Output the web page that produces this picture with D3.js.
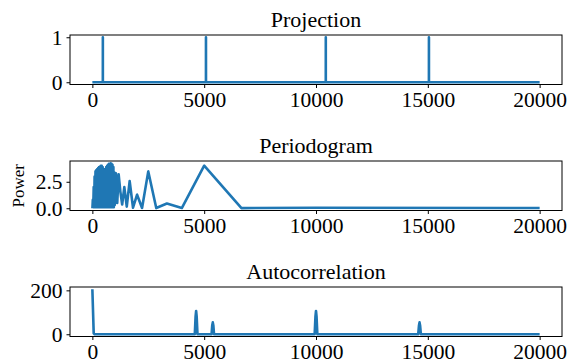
<!DOCTYPE html>
<html>
<head>
<meta charset="utf-8">
<script src="https://cdn.jsdelivr.net/npm/d3@7"></script>
<style>
  html, body { margin: 0; padding: 0; background: #fff; }
  svg { display: block; }
  .tick text { font-family: "Liberation Serif", "Times New Roman", serif; fill: #000; }
  .title { font-family: "Liberation Serif", "Times New Roman", serif; fill: #000; }
</style>
</head>
<body>
<svg id="chart" width="571" height="364"></svg>
<script>
// Projection: impulse positions (sample index) on a flat zero baseline
const projectionX = [0, 468, 469, 470, 5079, 5080, 5081, 10437, 10438, 10439, 15049, 15050, 15051, 20000];
const projectionY = [0, 0, 1, 0, 0, 1, 0, 0, 1, 0, 0, 1, 0, 0];

// Periodogram: power against period
const periodX = [20000, 10000, 6667, 5000, 4000, 3333, 2857, 2500, 2222, 2000, 1818, 1667, 1538, 1429, 1333, 1250, 1176, 1111, 1053, 1000,
  980, 960, 940, 920, 900, 880, 860, 840, 820, 800, 780, 760, 740, 720, 700, 680, 660, 640, 620, 600,
  580, 560, 540, 520, 500, 480, 460, 440, 420, 400, 380, 360, 340, 320, 300, 280, 260, 240, 220, 200,
  180, 160, 140, 120, 100, 80, 60, 40, 20, 2];
const powerY = [0.02, 0.05, 0.01, 4.02, 0.02, 0.45, 0.02, 3.48, 0.03, 1.28, 0.05, 2.57, 0.15, 2.0, 0.35, 1.6, 3.2, 0.5, 3.3, 0.3,
  3.4, 0.1, 3.9, 0.2, 4.1, 0.1, 4.2, 0.3, 4.25, 0.1, 4.15, 0.2, 4.2, 0.1, 4.1, 0.3, 4.0, 0.1, 3.9, 0.2,
  3.7, 0.1, 3.6, 0.2, 3.7, 0.1, 3.9, 0.2, 4.0, 0.1, 4.0, 0.2, 3.95, 0.1, 3.9, 0.2, 3.8, 0.1, 3.7, 0.2,
  3.6, 0.1, 3.5, 0.2, 3.0, 0.1, 2.0, 0.1, 0.8, 0.0];

// Autocorrelation: value against lag
const lagX = [0, 60, 100, 4580, 4615, 4640, 4665, 4700, 5330, 5360, 5385, 5410, 5440,
  9940, 9975, 10000, 10025, 10060, 14570, 14605, 14630, 14655, 14690, 20000];
const acfY = [205, 4, 0, 0, 80, 106, 80, 0, 0, 40, 54, 40, 0,
  0, 80, 106, 80, 0, 0, 40, 54, 40, 0, 0];

const xTicks = [0, 5000, 10000, 15000, 20000];
const titles = ["Projection", "Periodogram", "Autocorrelation"];
const yTicks = [[0, 1], [0, 2.5], [0, 200]];
const yFormats = [d3.format("d"), d3.format(".1f"), d3.format("d")];

const panels = [
  { xs: projectionX, ys: projectionY },
  { xs: periodX, ys: powerY },
  { xs: lagX, ys: acfY }
];

const svg = d3.select("#chart");
const left = 70, right = 562, plotH = 49.5;
const tops = [35, 161, 287];
const blue = "#1f77b4";

// padded domain, 5% either side of the data extent
function padded(ext) {
  const d = ext[1] - ext[0];
  return [ext[0] - 0.05 * d, ext[1] + 0.05 * d];
}

const x = d3.scaleLinear().domain(padded([0, 20000])).range([left, right]);

panels.forEach((p, i) => {
  const top = tops[i];
  const y = d3.scaleLinear().domain(padded(d3.extent(p.ys))).range([top + plotH, top]);
  const g = svg.append("g");

  const pts = p.xs.map((v, j) => [v, p.ys[j]]);
  const line = d3.line().x(d => x(d[0])).y(d => y(d[1]));

  g.append("path")
    .datum(pts)
    .attr("d", line)
    .attr("fill", "none")
    .attr("stroke", blue)
    .attr("stroke-width", 2.6)
    .attr("stroke-linejoin", "round");

  // frame
  g.append("rect")
    .attr("x", left).attr("y", top)
    .attr("width", right - left).attr("height", plotH)
    .attr("fill", "none").attr("stroke", "#000").attr("stroke-width", 1);

  const xa = g.append("g")
    .attr("transform", `translate(0,${top + plotH})`)
    .call(d3.axisBottom(x).tickValues(xTicks).tickFormat(d3.format("d"))
      .tickSize(3.5).tickSizeOuter(0).tickPadding(3.5));
  xa.select(".domain").remove();
  xa.selectAll("text").style("font-size", "21.5px");

  const ya = g.append("g")
    .attr("transform", `translate(${left},0)`)
    .call(d3.axisLeft(y).tickValues(yTicks[i]).tickFormat(yFormats[i])
      .tickSize(3.5).tickSizeOuter(0).tickPadding(4));
  ya.select(".domain").remove();
  ya.selectAll("text").style("font-size", "21.5px");
  g.selectAll(".tick line").attr("stroke", "#000");

  g.append("text")
    .attr("class", "title")
    .attr("x", (left + right) / 2)
    .attr("y", top - 8)
    .attr("text-anchor", "middle")
    .style("font-size", "22px")
    .text(titles[i]);
});

// y label of the periodogram
svg.append("text")
  .attr("class", "title")
  .attr("transform", `translate(24,${tops[1] + plotH / 2}) rotate(-90)`)
  .attr("text-anchor", "middle")
  .style("font-size", "17px")
  .text("Power");
</script>
</body>
</html>
